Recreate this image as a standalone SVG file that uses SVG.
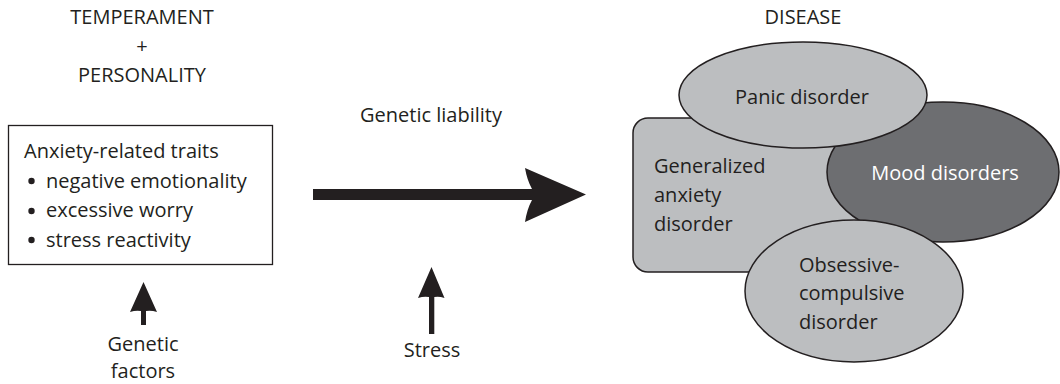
<svg xmlns="http://www.w3.org/2000/svg" width="1060" height="384" viewBox="0 0 1060 384">
<style>
text{font-family:"Open Sans","Liberation Sans",sans-serif;font-size:20px;fill:#231f20}
.c{text-anchor:middle}
.shape{stroke:#231f20;stroke-width:1.5}
.light{fill:#bcbec0}
.dark{fill:#6d6e71}
.arr{fill:#231f20;stroke:none}
</style>
<rect width="1060" height="384" fill="#fff"/>
<g id="temperament">
<text class="c" x="142" y="24">TEMPERAMENT</text>
<text class="c" x="142" y="53">+</text>
<text class="c" x="142" y="82">PERSONALITY</text>
</g>
<g id="traits">
<rect x="8.5" y="125.5" width="264" height="139" fill="#fff" stroke="#231f20" stroke-width="1.3"/>
<text x="24" y="158">Anxiety-related traits</text>
<circle cx="31.5" cy="181" r="3.2" fill="#231f20"/>
<text x="46" y="188">negative emotionality</text>
<circle cx="31.5" cy="211" r="3.2" fill="#231f20"/>
<text x="46" y="217">excessive worry</text>
<circle cx="31.5" cy="240" r="3.2" fill="#231f20"/>
<text x="46" y="247">stress reactivity</text>
</g>
<g id="genetic-factors">
<text class="c" x="143" y="351">Genetic</text>
<text class="c" x="143" y="378">factors</text>
</g>
<g id="genetic-liability">
<text class="c" x="431" y="122">Genetic liability</text>
</g>
<g id="stress">
<text class="c" x="432" y="357">Stress</text>
</g>
<g id="disease">
<text class="c" x="803" y="24">DISEASE</text>
<rect class="shape light" x="633" y="118" width="247" height="154" rx="15"/>
<ellipse class="shape dark" cx="943" cy="172" rx="116" ry="70"/>
<ellipse class="shape light" cx="803" cy="95" rx="124" ry="53"/>
<ellipse class="shape light" cx="854" cy="291" rx="109" ry="71"/>
<text class="c" x="802" y="104">Panic disorder</text>
<text x="654" y="173">Generalized</text>
<text x="654" y="202">anxiety</text>
<text x="654" y="231">disorder</text>
<text class="c" x="945" y="180" style="fill:#fff">Mood disorders</text>
<text x="799" y="272">Obsessive-</text>
<text x="799" y="300">compulsive</text>
<text x="799" y="329">disorder</text>
</g>
<g id="connectors">
<path class="arr" d="M313 189 H532 Q527 180 525 168 L586 194.5 L525 222 Q527 209 532 200 H313 Z"/>
<path class="arr" d="M143.5 282 L157 312 Q151 310 146 311 V325 H141 V311 Q136 310 130 312 Z"/>
<path class="arr" d="M431.5 267 L444.5 298 Q439 296 434.3 297 V334 H429 V297 Q424 296 418 298 Z"/>
</g>
</svg>
